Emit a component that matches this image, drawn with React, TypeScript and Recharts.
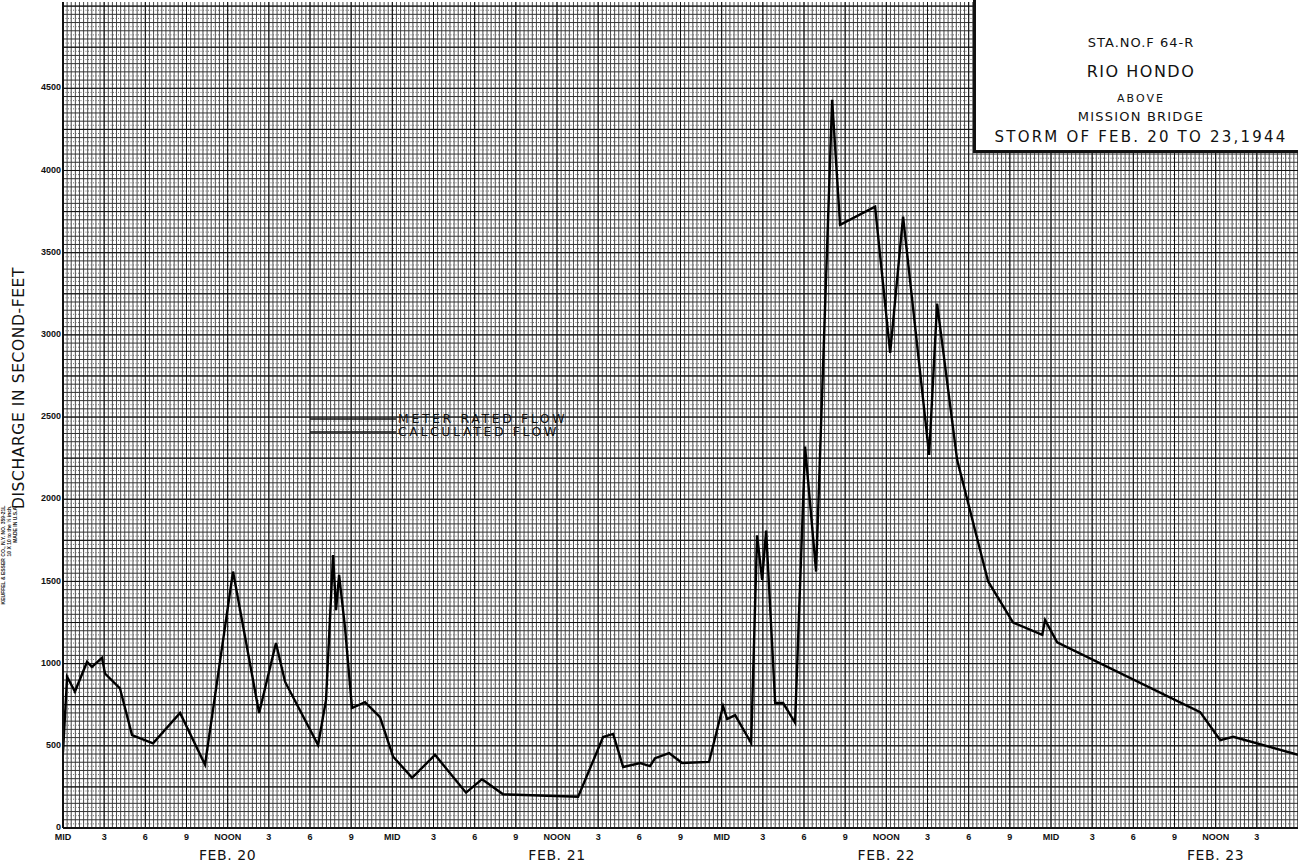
import { LineChart, Line, XAxis, YAxis, CartesianGrid, Legend, ReferenceLine } from 'recharts'

// hours after midnight Feb. 20, 1944
const hours = [
  0, 0.3, 0.87, 1.75, 2.11, 2.84, 3.06, 4.15, 5.03, 6.56, 8.53, 10.35, 12.39, 14.29,
  15.52, 16.18, 18.59, 19.17, 19.68, 19.9, 20.12, 20.55, 21.06, 22.01, 23.1, 24.05,
  25.44, 27.11, 29.37, 30.54, 32.07, 37.54, 39.36, 40.09, 40.82, 42.06, 42.78, 43.15,
  44.17, 45.12, 47.08, 48.1, 48.4, 48.98, 50.15, 50.58, 50.95, 51.24, 51.9, 52.48,
  53.35, 54.08, 54.88, 56.05, 56.63, 59.18, 60.28, 61.22, 63.12, 63.7, 65.16, 66.47,
  67.42, 69.24, 71.36, 71.57, 72.45, 82.87, 84.33, 85.28, 90,
]

// discharge, second-feet
const discharge = [
  460, 920, 830, 1010, 980, 1035, 940, 850, 565, 515, 700, 385, 1560, 700,
  1125, 890, 505, 780, 1660, 1325, 1540, 1220, 730, 765, 675, 435,
  305, 445, 215, 297, 205, 190, 553, 572, 371, 395, 377, 425,
  456, 395, 402, 742, 663, 687, 517, 1780, 1510, 1810, 760, 760,
  640, 2320, 1560, 4430, 3670, 3780, 2890, 3720, 2270, 3190, 2240, 1810,
  1500, 1250, 1175, 1265, 1130, 705, 535, 555, 445,
]

const yTicks = [0, 500, 1000, 1500, 2000, 2500, 3000, 3500, 4000, 4500]
const hourTicks = [0, 3, 6, 9, 12, 15, 18, 21, 24, 27, 30, 33, 36, 39, 42, 45, 48, 51, 54, 57, 60, 63, 66, 69, 72, 75, 78, 81, 84, 87]
const hourNames = ['MID', '3', '6', '9', 'NOON', '3', '6', '9']
const dayNames = ['FEB. 20', 'FEB. 21', 'FEB. 22', 'FEB. 23']
const titleLines = ['STA.NO.F 64-R', 'RIO HONDO', 'ABOVE', 'MISSION BRIDGE', 'STORM OF FEB. 20 TO 23,1944']

const data = hours.map((h, i) => ({ h, q: discharge[i] }))
const hourName = (v: number) => hourNames[Math.round(v / 3) % 8]
const lastHour = hourTicks[hourTicks.length - 1]

// graph paper rulings: 10 divisions per 3 hours, 20 per 500 second-feet
const range = (from: number, to: number, step: number) => {
  const out: number[] = []
  for (let v = from; v <= to + 1e-9; v += step) out.push(Math.round(v * 1000) / 1000)
  return out
}
const minorV = range(0, 90, 0.3)
const majorV = range(0, 90, 3)
const solidH = range(0, 5000, 50)
const dottedH = range(25, 5000, 50)
const majorH = range(0, 5000, 250)

const tickFont = { fontFamily: 'Liberation Sans, Arial, sans-serif', fontWeight: 700, fontSize: 9, fill: '#111' }
const letterFont = 'DejaVu Sans, Liberation Sans, sans-serif'

// hour of day under the axis, and the date under each noon
function TimeTick({ x, y, payload }: any) {
  const v = payload.value as number
  const day = v % 24 === 12 ? dayNames[Math.floor(v / 24)] : null
  return (
    <g>
      {v !== lastHour && (
        <text x={x} y={y + 10} textAnchor="middle" {...tickFont}>
          {hourName(v)}
        </text>
      )}
      {day && (
        <text x={x} y={y + 30} textAnchor="middle" fontFamily={letterFont} fontSize={14} fill="#111" letterSpacing={0.6}>
          {day}
        </text>
      )}
    </g>
  )
}

// the axis drops its final tick, so that hour is labelled from a reference line
function LastHourLabel({ viewBox }: any) {
  return (
    <text x={viewBox.x} y={viewBox.y + viewBox.height + 12} textAnchor="middle" {...tickFont}>
      {hourName(lastHour)}
    </text>
  )
}

function FlowLegend() {
  const rows = ['METER RATED FLOW', 'CALCULATED FLOW']
  return (
    <div style={{ width: 320 }}>
      {rows.map((label) => (
        <div key={label} style={{ display: 'flex', alignItems: 'center', height: 13 }}>
          <svg width={86} height={4}>
            <line x1={0} y1={2} x2={86} y2={2} stroke="#111" strokeWidth={1.6} />
          </svg>
          <span style={{ fontFamily: letterFont, fontSize: 12.5, letterSpacing: 2.6, color: '#111', marginLeft: 2, lineHeight: '13px' }}>
            {label}
          </span>
        </div>
      ))}
    </div>
  )
}

export default function App() {
  return (
    <div style={{ position: 'absolute', left: 0, top: 0, width: 1298, height: 862, background: '#fff', overflow: 'hidden' }}>
      <LineChart width={1298} height={862} data={data} margin={{ top: 2, right: 0, left: 0, bottom: 0 }}>
        <CartesianGrid horizontal={false} verticalValues={minorV} stroke="#4a4a4a" strokeWidth={1} />
        <CartesianGrid vertical={false} horizontalValues={solidH} stroke="#333" strokeWidth={1} />
        <CartesianGrid vertical={false} horizontalValues={dottedH} stroke="#6a6a6a" strokeDasharray="1 1.5" strokeWidth={1} />
        <CartesianGrid verticalValues={majorV} horizontalValues={majorH} stroke="#111" strokeWidth={1} />
        <XAxis
          dataKey="h"
          type="number"
          domain={[0, 90]}
          ticks={hourTicks}
          interval={0}
          minTickGap={0}
          tickLine={false}
          tickSize={0}
          height={34}
          axisLine={{ stroke: '#111', strokeWidth: 2 }}
          tick={<TimeTick />}
          allowDataOverflow
        />
        <YAxis
          type="number"
          domain={[0, 5025]}
          ticks={yTicks}
          interval={0}
          width={63}
          tickLine={false}
          tickSize={0}
          tickMargin={2}
          axisLine={{ stroke: '#111', strokeWidth: 2 }}
          tick={{ ...tickFont, dy: -1 }}
          allowDataOverflow
        />
        <ReferenceLine x={lastHour} stroke="none" label={<LastHourLabel />} />
        <Legend
          layout="horizontal"
          verticalAlign="middle"
          align="center"
          content={() => <FlowLegend />}
          wrapperStyle={{ left: 310, top: 412, width: 320 }}
        />
        <Line
          type="linear"
          dataKey="q"
          stroke="#000"
          strokeWidth={2.4}
          dot={false}
          isAnimationActive={false}
        />
      </LineChart>

      {/* axis caption */}
      <div
        style={{
          position: 'absolute', left: 19, top: 388, transform: 'translate(-50%, -50%) rotate(-90deg)',
          whiteSpace: 'nowrap', fontFamily: letterFont, fontSize: 15.5, color: '#111', letterSpacing: 0.6,
        }}
      >
        DISCHARGE IN SECOND-FEET
      </div>

      {/* paper maker's imprint */}
      <div
        style={{
          position: 'absolute', left: 9, top: 555, transform: 'translate(-50%, -50%) rotate(-90deg)',
          whiteSpace: 'nowrap', fontFamily: 'Liberation Sans, sans-serif', fontWeight: 700, fontSize: 5,
          lineHeight: '6px', color: '#222', textAlign: 'right',
        }}
      >
        <div>KEUFFEL &amp; ESSER CO., N.Y. NO. 359-21L</div>
        <div>10 X 10 to the ½ inch.</div>
        <div>MADE IN U.S.A.</div>
      </div>

      {/* station title block */}
      <div
        style={{
          position: 'absolute', left: 973, top: 0, width: 325, height: 153, background: '#fff',
          borderLeft: '3px solid #111', borderBottom: '3px solid #111', boxSizing: 'border-box',
          fontFamily: letterFont, color: '#111', textAlign: 'center', paddingLeft: 4,
        }}
      >
        <div style={{ position: 'absolute', top: 35, width: '100%', fontSize: 13, letterSpacing: 1 }}>{titleLines[0]}</div>
        <div style={{ position: 'absolute', top: 62, width: '100%', fontSize: 16, letterSpacing: 1.5 }}>{titleLines[1]}</div>
        <div style={{ position: 'absolute', top: 92, width: '100%', fontSize: 11, letterSpacing: 2 }}>{titleLines[2]}</div>
        <div style={{ position: 'absolute', top: 109, width: '100%', fontSize: 13, letterSpacing: 1.2 }}>{titleLines[3]}</div>
        <div style={{ position: 'absolute', top: 128, width: '100%', fontSize: 15, letterSpacing: 2.2 }}>{titleLines[4]}</div>
      </div>
    </div>
  )
}
